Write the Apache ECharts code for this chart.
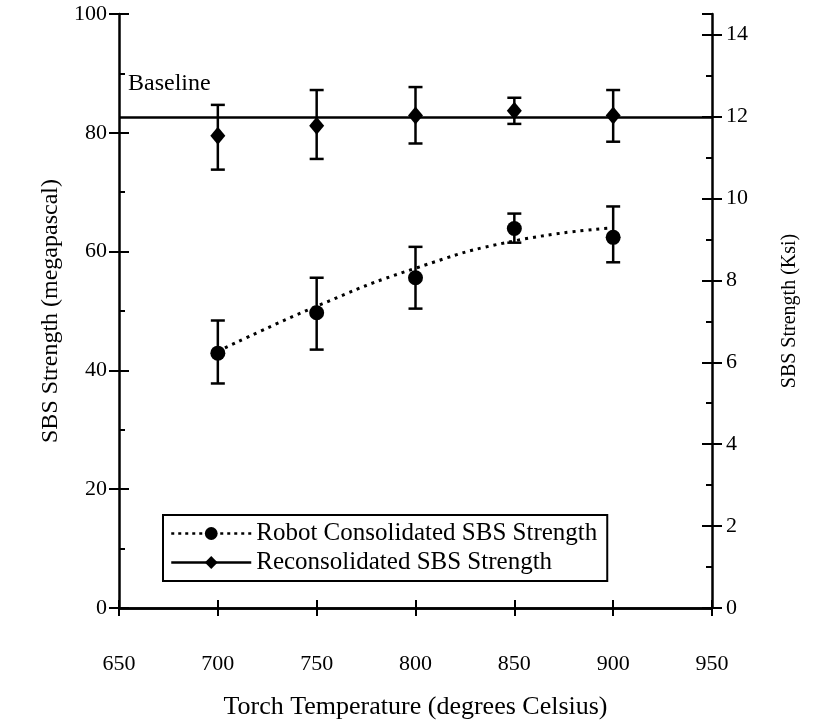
<!DOCTYPE html>
<html>
<head>
<meta charset="utf-8">
<script src="https://cdn.jsdelivr.net/npm/echarts@6/dist/echarts.min.js"></script>
<style>html,body{margin:0;padding:0;background:#fff}#c{width:814px;height:725px}</style>
</head>
<body>
<div id="c"></div>
<script>
// ---- data (MPa) ----
const temps = [700, 750, 800, 850, 900];
const robotMean = [42.9, 49.7, 55.6, 63.9, 62.4];
const robotLow  = [37.8, 43.5, 50.4, 61.5, 58.2];
const robotHigh = [48.4, 55.6, 60.8, 66.4, 67.6];
const robotFit  = [43.2, 50.8, 57.2, 61.8, 64.0];
const reconMean = [79.5, 81.2, 82.9, 83.7, 82.9];
const reconLow  = [73.8, 75.6, 78.2, 81.5, 78.5];
const reconHigh = [84.7, 87.2, 87.7, 85.9, 87.2];
const baselineMPa = 82.7;
const MPA_PER_KSI = 6.895;
const robotName = 'Robot Consolidated SBS Strength';
const reconName = 'Reconsolidated SBS Strength';

const FONT = '"Liberation Serif", "Times New Roman", serif';
const pair = (xs, ys) => xs.map((x, i) => [x, ys[i]]);
const bars = (xs, lo, hi) => xs.map((x, i) => [x, lo[i], hi[i]]);

function errRender(params, api) {
  const x = api.value(0);
  const lo = api.coord([x, api.value(1)]);
  const hi = api.coord([x, api.value(2)]);
  const w = 7;
  const st = { stroke: '#000', lineWidth: 2.5 };
  return { type: 'group', children: [
    { type: 'line', shape: { x1: lo[0], y1: lo[1], x2: hi[0], y2: hi[1] }, style: st },
    { type: 'line', shape: { x1: lo[0]-w, y1: lo[1], x2: lo[0]+w, y2: lo[1] }, style: st },
    { type: 'line', shape: { x1: hi[0]-w, y1: hi[1], x2: hi[0]+w, y2: hi[1] }, style: st }
  ]};
}

const axLine = { show: true, lineStyle: { color: '#000', width: 2.5 } };
const lbl = { color: '#000', fontFamily: FONT, fontSize: 22 };

const chart = echarts.init(document.getElementById('c'), null, { renderer: 'canvas' });
chart.setOption({
  backgroundColor: '#fff',
  animation: false,
  textStyle: { fontFamily: FONT, color: '#000' },
  grid: { left: 119, right: 102, top: 14, bottom: 117 },
  legend: {
    orient: 'vertical', left: 163, top: 515,
    padding: [6, 10, 6, 7], itemGap: 4,
    itemWidth: 80, itemHeight: 16,
    borderColor: '#000', borderWidth: 2, backgroundColor: '#fff',
    textStyle: { fontFamily: FONT, fontSize: 25, color: '#000' },
    data: [
      { name: robotName, lineStyle: { opacity: 1, type: [3, 4], width: 2.5, color: '#000' } },
      { name: reconName, lineStyle: { opacity: 1, type: 'solid', width: 2.5, color: '#000' } }
    ]
  },
  xAxis: [
    { type: 'value', min: 650, max: 950, interval: 50, position: 'bottom',
      axisLine: axLine, splitLine: { show: false },
      axisTick: { inside: true, length: 8, lineStyle: { width: 2, color: '#000' } },
      axisLabel: Object.assign({ margin: 45 }, lbl),
      name: 'Torch Temperature (degrees Celsius)', nameLocation: 'middle', nameGap: 86,
      nameTextStyle: { fontFamily: FONT, fontSize: 26, color: '#000' } },
    { type: 'value', min: 650, max: 950, interval: 50, position: 'top',
      axisLine: axLine, splitLine: { show: false },
      axisTick: { inside: true, length: 8, lineStyle: { width: 2, color: '#000' } },
      axisLabel: { show: false } }
  ],
  yAxis: [
    { type: 'value', min: 0, max: 100, interval: 20, position: 'left',
      axisLine: axLine, splitLine: { show: false },
      axisTick: { inside: false, length: 10, lineStyle: { width: 2, color: '#000' } },
      axisLabel: Object.assign({ margin: 12 }, lbl),
      name: 'SBS Strength (megapascal)', nameLocation: 'middle', nameGap: 56, nameRotate: 90,
      nameTextStyle: { fontFamily: FONT, fontSize: 24, color: '#000' } },
    { type: 'value', min: 0, max: 100 / MPA_PER_KSI, interval: 2, position: 'right',
      axisLine: axLine, splitLine: { show: false },
      axisTick: { inside: false, length: 10, lineStyle: { width: 2, color: '#000' } },
      axisLabel: Object.assign({ margin: 14, showMaxLabel: false }, lbl),
      name: 'SBS Strength (Ksi)', nameLocation: 'middle', nameGap: 68, nameRotate: 90,
      nameTextStyle: { fontFamily: FONT, fontSize: 20, color: '#000' } },
    { type: 'value', min: 0, max: 100, interval: 20, position: 'left',
      axisLine: { show: false }, splitLine: { show: false },
      axisTick: { inside: true, length: 10, lineStyle: { width: 2, color: '#000' } },
      minorTick: { show: true, splitNumber: 2, length: 6, lineStyle: { width: 2, color: '#000' } },
      axisLabel: { show: false } },
    { type: 'value', min: 0, max: 100 / MPA_PER_KSI, interval: 2, position: 'right',
      axisLine: { show: false }, splitLine: { show: false },
      axisTick: { inside: true, length: 10, lineStyle: { width: 2, color: '#000' } },
      minorTick: { show: true, splitNumber: 2, length: 6, lineStyle: { width: 2, color: '#000' } },
      axisLabel: { show: false } }
  ],
  series: [
    { name: 'fit', type: 'line', smooth: true, showSymbol: false, silent: true,
      data: pair(temps, robotFit),
      lineStyle: { color: '#000', width: 3, type: [3, 5] }, z: 2 },
    { name: 'robotErr', type: 'custom', renderItem: errRender,
      data: bars(temps, robotLow, robotHigh), encode: { x: 0, y: [1, 2] }, z: 3 },
    { name: 'reconErr', type: 'custom', renderItem: errRender,
      data: bars(temps, reconLow, reconHigh), encode: { x: 0, y: [1, 2] }, z: 3 },
    { name: robotName, type: 'line', data: pair(temps, robotMean),
      symbol: 'circle', symbolSize: 15,
      itemStyle: { color: '#000' }, lineStyle: { opacity: 0, color: '#000' }, z: 4 },
    { name: reconName, type: 'line', data: pair(temps, reconMean),
      symbol: 'diamond', symbolSize: [15, 18],
      itemStyle: { color: '#000' }, lineStyle: { opacity: 0, color: '#000' }, z: 4,
      markLine: {
        silent: true, symbol: 'none',
        lineStyle: { color: '#000', width: 2.5, type: 'solid' },
        label: { show: true, position: 'insideStartTop', formatter: 'Baseline',
          fontFamily: FONT, fontSize: 24, color: '#000', padding: [0, 0, 16, 4] },
        data: [{ yAxis: baselineMPa }]
      } }
  ]
});
</script>
</body>
</html>
